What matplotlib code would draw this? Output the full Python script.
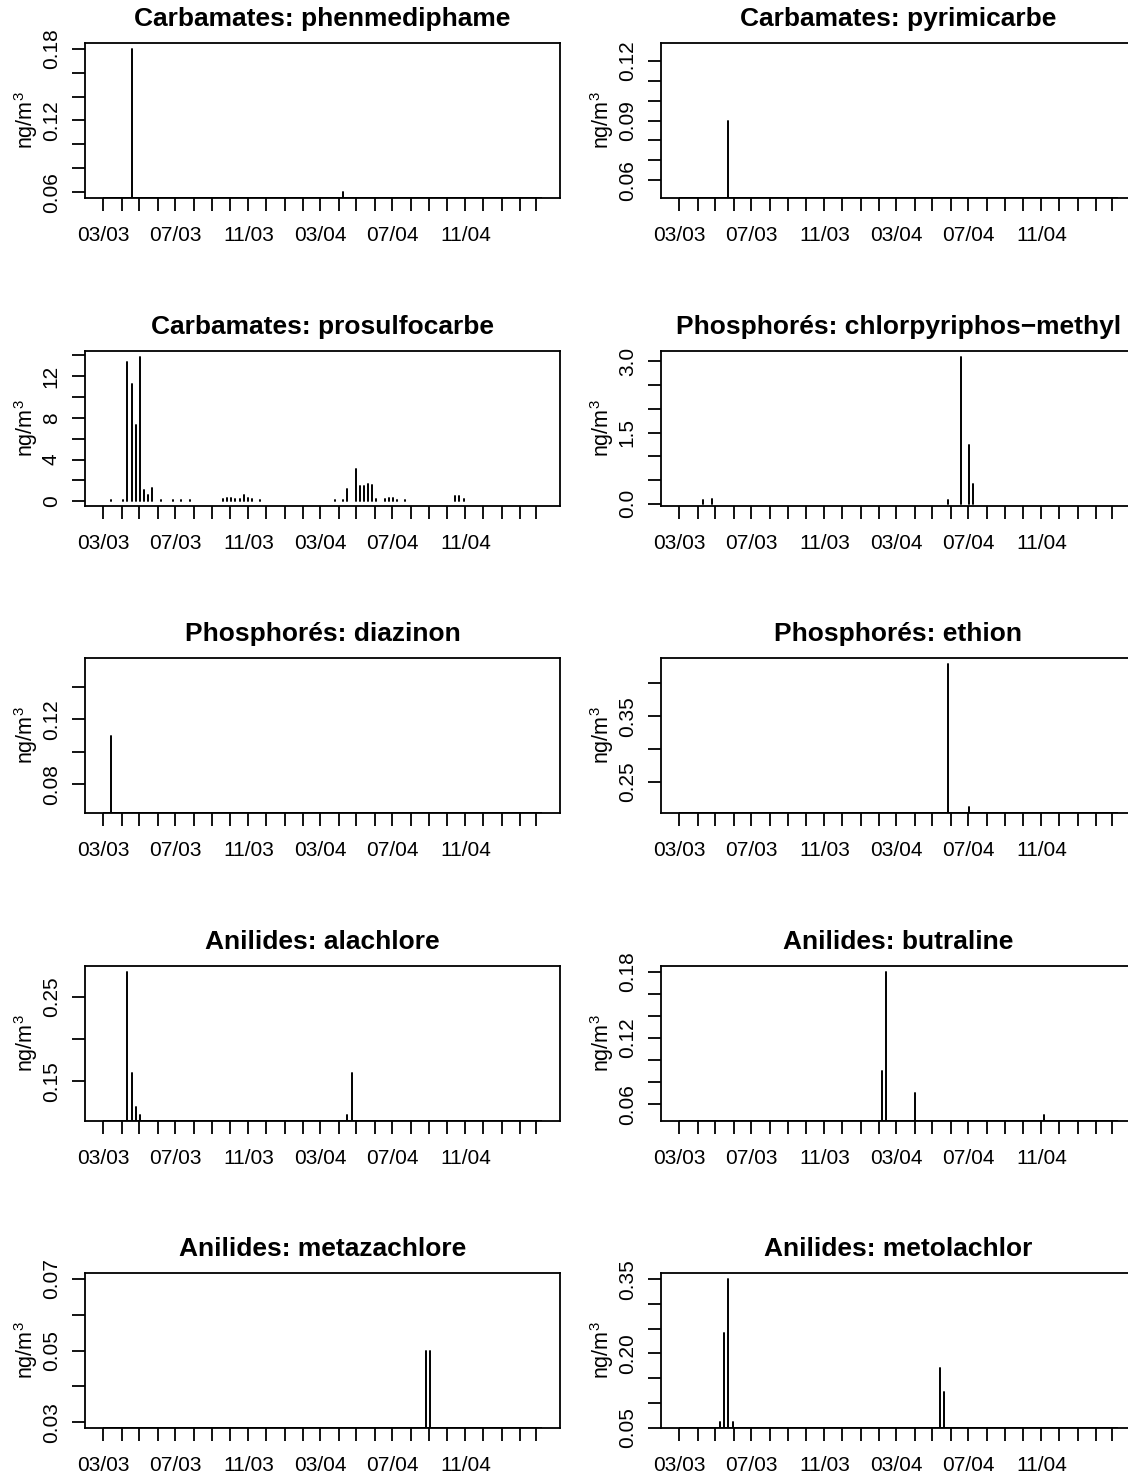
import numpy as np
import matplotlib.pyplot as plt
import matplotlib.dates as mdates

plt.rcParams['font.family'] = ['Liberation Sans', 'DejaVu Sans']
plt.rcParams['mathtext.fontset'] = 'custom'
plt.rcParams['mathtext.rm'] = 'Liberation Sans'
plt.rcParams['mathtext.it'] = 'Liberation Sans'

# période d'échantillonnage hebdomadaire
date_debut = '2003-02-28'
date_fin = '2005-03-11'

titres = [
    'Carbamates: phenmediphame', 'Carbamates: pyrimicarbe',
    'Carbamates: prosulfocarbe', 'Phosphorés: chlorpyriphos\u2212methyl',
    'Phosphorés: diazinon', 'Phosphorés: ethion',
    'Anilides: alachlore', 'Anilides: butraline',
    'Anilides: metazachlore', 'Anilides: metolachlor',
]

# mesures (dates de prélèvement, ng/m3)
phenmediphame_dates = ['2003-04-18', '2004-04-09']
phenmediphame_vals = [0.18, 0.06]

pyrimicarbe_dates = ['2003-05-23']
pyrimicarbe_vals = [0.09]

prosulfocarbe_dates = [
    '2003-03-14', '2003-04-04', '2003-04-11', '2003-04-18', '2003-04-25',
    '2003-05-02', '2003-05-09', '2003-05-16', '2003-05-23', '2003-06-06',
    '2003-06-27', '2003-07-11', '2003-07-25', '2003-09-19', '2003-09-26',
    '2003-10-03', '2003-10-10', '2003-10-17', '2003-10-24', '2003-10-31',
    '2003-11-07', '2003-11-21', '2004-03-26', '2004-04-09', '2004-04-16',
    '2004-04-30', '2004-05-07', '2004-05-14', '2004-05-21', '2004-05-28',
    '2004-06-04', '2004-06-18', '2004-06-25', '2004-07-02', '2004-07-09',
    '2004-07-23', '2004-10-15', '2004-10-22', '2004-10-29',
]
prosulfocarbe_vals = [
    0.1, 0.15, 13.3, 11.2, 7.3,
    13.85, 1.05, 0.6, 1.3, 0.15,
    0.1, 0.1, 0.1, 0.2, 0.3,
    0.3, 0.25, 0.2, 0.65, 0.35,
    0.2, 0.12, 0.12, 0.15, 1.2,
    3.05, 1.45, 1.45, 1.7, 1.6,
    0.2, 0.2, 0.3, 0.35, 0.15,
    0.1, 0.55, 0.5, 0.25,
]

chlorpyriphos_dates = ['2003-04-11', '2003-04-25', '2004-05-28', '2004-06-18',
                       '2004-07-02', '2004-07-09']
chlorpyriphos_vals = [0.07, 0.09, 0.085, 3.1, 1.23, 0.41]

diazinon_dates = ['2003-03-14']
diazinon_vals = [0.11]

ethion_dates = ['2004-05-28', '2004-07-02']
ethion_vals = [0.43, 0.2115]

alachlore_dates = ['2003-04-11', '2003-04-18', '2003-04-25', '2003-05-02',
                   '2004-04-16', '2004-04-23']
alachlore_vals = [0.28, 0.16, 0.12, 0.11, 0.11, 0.16]

butraline_dates = ['2004-02-06', '2004-02-13', '2004-04-02', '2004-11-05']
butraline_vals = [0.09, 0.18, 0.07, 0.05]

metazachlore_dates = ['2004-08-27', '2004-09-03']
metazachlore_vals = [0.05, 0.05]

metolachlor_dates = ['2003-05-09', '2003-05-16', '2003-05-23', '2003-05-30',
                     '2004-05-14', '2004-05-21']
metolachlor_vals = [0.061, 0.241, 0.351, 0.061, 0.1715, 0.1225]

series = [
    (phenmediphame_dates, phenmediphame_vals),
    (pyrimicarbe_dates, pyrimicarbe_vals),
    (prosulfocarbe_dates, prosulfocarbe_vals),
    (chlorpyriphos_dates, chlorpyriphos_vals),
    (diazinon_dates, diazinon_vals),
    (ethion_dates, ethion_vals),
    (alachlore_dates, alachlore_vals),
    (butraline_dates, butraline_vals),
    (metazachlore_dates, metazachlore_vals),
    (metolachlor_dates, metolachlor_vals),
]

# graduations de l'axe y (toutes) et celles qui portent un libellé
yticks = [
    [0.06, 0.08, 0.10, 0.12, 0.14, 0.16, 0.18],
    [0.06, 0.07, 0.08, 0.09, 0.10, 0.11, 0.12],
    [0, 2, 4, 6, 8, 10, 12, 14],
    [0.0, 0.5, 1.0, 1.5, 2.0, 2.5, 3.0],
    [0.08, 0.10, 0.12, 0.14],
    [0.25, 0.30, 0.35, 0.40],
    [0.15, 0.20, 0.25],
    [0.06, 0.08, 0.10, 0.12, 0.14, 0.16, 0.18],
    [0.03, 0.04, 0.05, 0.06, 0.07],
    [0.05, 0.10, 0.15, 0.20, 0.25, 0.30, 0.35],
]
ylabels = [
    ['0.06', '', '', '0.12', '', '', '0.18'],
    ['0.06', '', '', '0.09', '', '', '0.12'],
    ['0', '', '4', '', '8', '', '12', ''],
    ['0.0', '', '', '1.5', '', '', '3.0'],
    ['0.08', '', '0.12', ''],
    ['0.25', '', '0.35', ''],
    ['0.15', '', '0.25'],
    ['0.06', '', '', '0.12', '', '', '0.18'],
    ['0.03', '', '0.05', '', '0.07'],
    ['0.05', '', '', '0.20', '', '', '0.35'],
]

mois_ticks = np.arange(np.datetime64('2003-03'), np.datetime64('2005-04'),
                       np.timedelta64(1, 'M')).astype('datetime64[D]')
mois_labels = ['03/03', '07/03', '11/03', '03/04', '07/04', '11/04']


def r_range(lo, hi):
    # comme plot() de R : étendue +/- 4 %
    if lo == hi:
        lo, hi = lo - 0.4 * abs(lo), hi + 0.4 * abs(hi)
    d = hi - lo
    return lo - 0.04 * d, hi + 0.04 * d


W, H = 1128, 1478
fig = plt.figure(figsize=(W / 100, H / 100), dpi=100)

col_left = [85, 661]
row_top = [43, 351, 658, 966, 1273]
box_w, box_h = 475, 155

x0 = mdates.date2num(np.datetime64(date_debut))
x1 = mdates.date2num(np.datetime64(date_fin))
xlim = r_range(x0, x1)

for i, (dates, vals) in enumerate(series):
    r, c = divmod(i, 2)
    ax = fig.add_axes([col_left[c] / W, 1 - (row_top[r] + box_h) / H,
                       box_w / W, box_h / H])
    x = mdates.date2num(np.array(dates, dtype='datetime64[D]'))
    ylim = r_range(min(vals), max(vals))

    lc = ax.vlines(x, 0, vals, color='black', lw=1.4)
    lc.set_capstyle('round')
    if ylim[0] > 0:
        # non détectés : valeurs nulles écrasées sur le bord inférieur
        ax.hlines(ylim[0], x0, x1, color='black', lw=1.4)

    ax.set_xlim(xlim)
    ax.set_ylim(ylim)

    ax.set_xticks(mdates.date2num(mois_ticks))
    xt = [''] * len(mois_ticks)
    for k, lab in enumerate(mois_labels):
        xt[4 * k] = lab
    ax.set_xticklabels(xt)
    ax.set_yticks(yticks[i])
    ax.set_yticklabels(ylabels[i], rotation=90, va='center')

    ax.tick_params(axis='both', length=9.4, width=1.3, labelsize=15,
                   direction='out', colors='black')
    ax.tick_params(axis='x', pad=11)
    ax.tick_params(axis='y', pad=8)
    for sp in ax.spines.values():
        sp.set_linewidth(1.3)

    ax.set_title(titres[i], fontsize=19, fontweight='bold', pad=12)
    ax.set_ylabel('ng/m$^3$', fontsize=15.5)
    ax.yaxis.set_label_coords(-0.095, 0.5)

fig.savefig('out.png', dpi=100)
